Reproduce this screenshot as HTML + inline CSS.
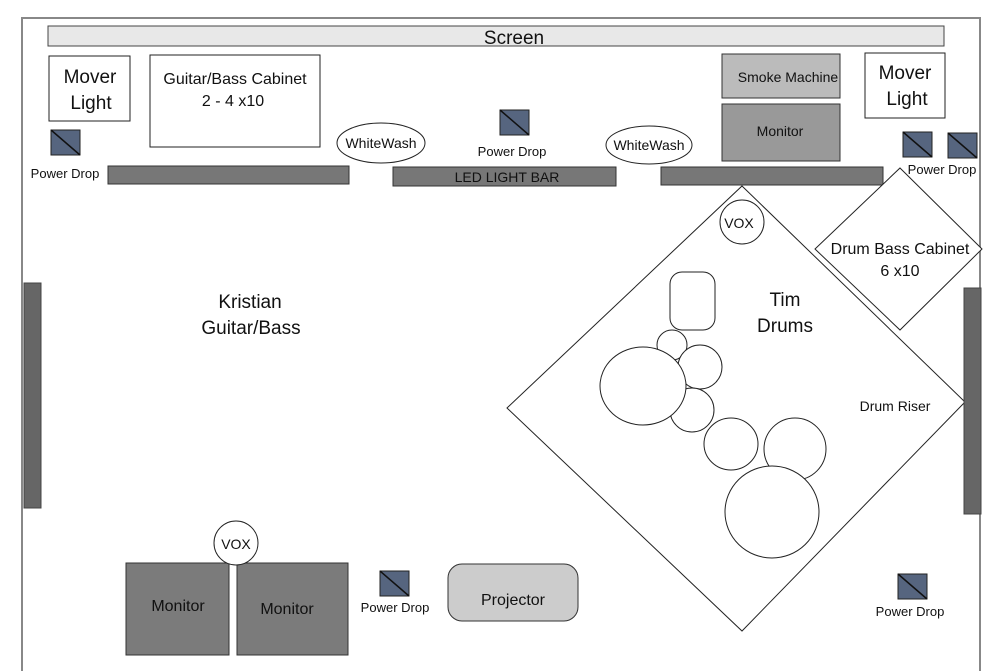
<!DOCTYPE html>
<html><head><style>body{margin:0;background:#fff}svg{display:block}text{font-family:"Liberation Sans",sans-serif;fill:#111}</style></head>
<body>
<svg width="1000" height="671" viewBox="0 0 1000 671" xmlns="http://www.w3.org/2000/svg">
<defs>
<g id="pd"><rect x="0" y="0" width="29" height="25" fill="#56657f" stroke="#222" stroke-width="1"/><line x1="0" y1="0" x2="29" y2="25" stroke="#111" stroke-width="1.5"/></g>
</defs>
<polyline points="22,671 22,18 980,18 980,671" fill="none" stroke="#888" stroke-width="2"/>
<rect x="48" y="26" width="896" height="20" fill="#e8e8e8" stroke="#444" stroke-width="1"/>
<text x="514" y="44" font-size="19" text-anchor="middle">Screen</text>
<rect x="49" y="56" width="81" height="65" fill="#fff" stroke="#222"/>
<text x="90" y="83" font-size="19" text-anchor="middle">Mover</text>
<text x="91" y="109" font-size="19" text-anchor="middle">Light</text>
<rect x="150" y="55" width="170" height="92" fill="#fff" stroke="#222"/>
<text x="235" y="84" font-size="16" text-anchor="middle">Guitar/Bass Cabinet</text>
<text x="233" y="106" font-size="16" text-anchor="middle">2 - 4 x10</text>
<use href="#pd" x="51" y="130"/>
<text x="65" y="178" font-size="13" text-anchor="middle">Power Drop</text>
<rect x="108" y="166" width="241" height="18" fill="#777" stroke="#333"/>
<rect x="393" y="167" width="223" height="19" fill="#777" stroke="#333"/>
<text x="507" y="182" font-size="14" text-anchor="middle">LED LIGHT BAR</text>
<rect x="661" y="167" width="222" height="18" fill="#777" stroke="#333"/>
<ellipse cx="381" cy="143" rx="44" ry="20" fill="#fff" stroke="#222"/>
<text x="381" y="148" font-size="14" text-anchor="middle">WhiteWash</text>
<ellipse cx="649" cy="145" rx="43" ry="19" fill="#fff" stroke="#222"/>
<text x="649" y="150" font-size="14" text-anchor="middle">WhiteWash</text>
<use href="#pd" x="500" y="110"/>
<text x="512" y="156" font-size="13" text-anchor="middle">Power Drop</text>
<rect x="722" y="54" width="118" height="44" fill="#bbb" stroke="#333"/>
<text x="788" y="82" font-size="14" text-anchor="middle">Smoke Machine</text>
<rect x="722" y="104" width="118" height="57" fill="#999" stroke="#333"/>
<text x="780" y="136" font-size="14" text-anchor="middle">Monitor</text>
<rect x="865" y="53" width="80" height="65" fill="#fff" stroke="#222"/>
<text x="905" y="79" font-size="19" text-anchor="middle">Mover</text>
<text x="907" y="105" font-size="19" text-anchor="middle">Light</text>
<use href="#pd" x="903" y="132"/>
<use href="#pd" x="948" y="133"/>
<text x="942" y="174" font-size="13" text-anchor="middle">Power Drop</text>
<polygon points="742,186 965,402 742,631 507,408" fill="#fff" stroke="#222"/>
<polygon points="900,168 982,249 900,330 815,249" fill="#fff" stroke="#222"/>
<text x="900" y="254" font-size="16" text-anchor="middle">Drum Bass Cabinet</text>
<text x="900" y="276" font-size="16" text-anchor="middle">6 x10</text>
<circle cx="742" cy="222" r="22" fill="#fff" stroke="#222"/>
<text x="739" y="228" font-size="14" text-anchor="middle">VOX</text>
<rect x="670" y="272" width="45" height="58" rx="12" fill="#fff" stroke="#222"/>
<circle cx="672" cy="345" r="15" fill="#fff" stroke="#222"/>
<circle cx="700" cy="367" r="22" fill="#fff" stroke="#222"/>
<circle cx="692" cy="410" r="22" fill="#fff" stroke="#222"/>
<ellipse cx="643" cy="386" rx="43" ry="39" fill="#fff" stroke="#222"/>
<ellipse cx="731" cy="444" rx="27" ry="26" fill="#fff" stroke="#222"/>
<circle cx="795" cy="449" r="31" fill="#fff" stroke="#222"/>
<ellipse cx="772" cy="512" rx="47" ry="46" fill="#fff" stroke="#222"/>
<text x="785" y="306" font-size="19" text-anchor="middle">Tim</text>
<text x="785" y="332" font-size="19" text-anchor="middle">Drums</text>
<text x="895" y="411" font-size="14" text-anchor="middle">Drum Riser</text>
<rect x="964" y="288" width="17" height="226" fill="#666" stroke="#444"/>
<rect x="24" y="283" width="17" height="225" fill="#666" stroke="#444"/>
<use href="#pd" x="898" y="574"/>
<text x="910" y="616" font-size="13" text-anchor="middle">Power Drop</text>
<text x="250" y="308" font-size="19" text-anchor="middle">Kristian</text>
<text x="251" y="334" font-size="19" text-anchor="middle">Guitar/Bass</text>
<rect x="126" y="563" width="103" height="92" fill="#7b7b7b" stroke="#333"/>
<text x="178" y="611" font-size="16" text-anchor="middle">Monitor</text>
<rect x="237" y="563" width="111" height="92" fill="#7b7b7b" stroke="#333"/>
<text x="287" y="614" font-size="16" text-anchor="middle">Monitor</text>
<circle cx="236" cy="543" r="22" fill="#fff" stroke="#222"/>
<text x="236" y="549" font-size="14" text-anchor="middle">VOX</text>
<use href="#pd" x="380" y="571"/>
<text x="395" y="612" font-size="13" text-anchor="middle">Power Drop</text>
<rect x="448" y="564" width="130" height="57" rx="14" fill="#ccc" stroke="#333"/>
<text x="513" y="605" font-size="16" text-anchor="middle">Projector</text>
</svg>
</body></html>
